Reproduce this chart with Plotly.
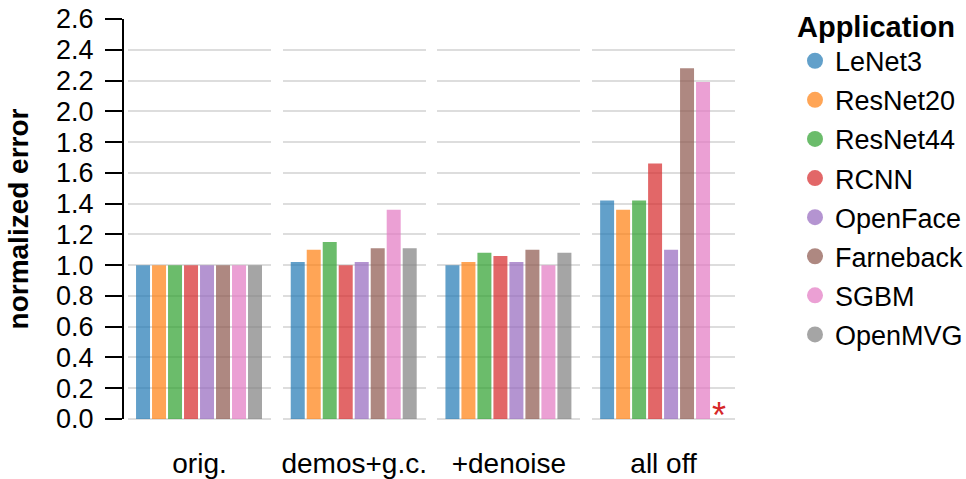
import plotly.graph_objects as go

# Applications (one bar per application inside each configuration panel)
apps = ["LeNet3", "ResNet20", "ResNet44", "RCNN", "OpenFace", "Farneback", "SGBM", "OpenMVG"]
colors = ["#1f77b4", "#ff7f0e", "#2ca02c", "#d62728", "#9467bd", "#8c564b", "#e377c2", "#7f7f7f"]

# Pipeline configurations (panels, left to right)
configs = ["orig.", "demos+g.c.", "+denoise", "all off"]

# Normalized error per configuration, ordered as `apps`; None = no result
err_orig = [1.00, 1.00, 1.00, 1.00, 1.00, 1.00, 1.00, 1.00]
err_demos_gc = [1.02, 1.10, 1.15, 1.00, 1.02, 1.11, 1.36, 1.11]
err_denoise = [1.00, 1.02, 1.08, 1.06, 1.02, 1.10, 1.00, 1.08]
err_all_off = [1.42, 1.36, 1.42, 1.66, 1.10, 2.28, 2.19, None]
panel_values = [err_orig, err_demos_gc, err_denoise, err_all_off]

y_ticks = [0.0, 0.2, 0.4, 0.6, 0.8, 1.0, 1.2, 1.4, 1.6, 1.8, 2.0, 2.2, 2.4, 2.6]

FONT = "Liberation Sans, Arial, Helvetica, sans-serif"
GRID = "#dddddd"

fig = go.Figure()
annotations = []

# Bars: one trace per application per panel
for p, vals in enumerate(panel_values):
    xa = "x" if p == 0 else f"x{p + 1}"
    for i, app in enumerate(apps):
        fig.add_trace(go.Bar(
            x=[app], y=[vals[i]], xaxis=xa, yaxis="y",
            marker=dict(color=colors[i], opacity=0.7, line=dict(width=0)),
            showlegend=False, hoverinfo="x+y",
        ))
    # mark missing results with a red asterisk at the baseline
    for app, v in zip(apps, vals):
        if v is None:
            annotations.append(dict(
                x=app, y=0, xref=xa, yref="y", text="*", showarrow=False,
                xanchor="center", yanchor="middle", yshift=4,
                font=dict(family=FONT, size=36, color="#d62728"),
            ))

# Legend entries with circular symbols
for i, app in enumerate(apps):
    fig.add_trace(go.Scatter(
        x=[None], y=[None], mode="markers", name=app, legendgroup=app,
        marker=dict(symbol="circle", size=20, color=colors[i], opacity=0.7),
        xaxis="x", yaxis="y",
    ))

L, R, T, B = 123, 231, 19, 60
W, H = 966, 479
plot_w = W - L - R
panel_w, panel_step, panel_off = 143, 154.7, 5

layout_axes = {}
for p, name in enumerate(configs):
    key = "xaxis" if p == 0 else f"xaxis{p + 1}"
    start = (panel_off + p * panel_step) / plot_w
    end = (panel_off + p * panel_step + panel_w) / plot_w
    layout_axes[key] = dict(
        domain=[start, min(end, 1.0)], anchor="y",
        type="category", categoryorder="array", categoryarray=apps,
        range=[-0.94, 8.0], showticklabels=False, ticks="", showgrid=False,
        showline=False, zeroline=False, automargin=False,
        title=dict(text=name, font=dict(family=FONT, size=28, color="black"), standoff=34),
    )

fig.update_layout(
    width=W, height=H,
    margin=dict(l=L, r=R, t=T, b=B, pad=0, autoexpand=False),
    paper_bgcolor="white", plot_bgcolor="white",
    font=dict(family=FONT, color="black"),
    bargap=0.125,
    yaxis=dict(
        range=[0, 2.6], tickvals=y_ticks, tickformat=".1f",
        anchor="free", position=0, automargin=False,
        showline=True, linecolor="black", linewidth=2,
        ticks="outside", ticklen=17, tickwidth=2, tickcolor="black",
        ticklabelstandoff=6,
        tickfont=dict(family=FONT, size=27, color="black"),
        showgrid=True, gridcolor=GRID, gridwidth=2,
        zeroline=True, zerolinecolor=GRID, zerolinewidth=2,
        title=dict(text="<b>normalized error</b>", font=dict(family=FONT, size=28, color="black"), standoff=18),
    ),
    legend=dict(
        x=(795 - L) / plot_w, xanchor="left", y=1.05, yanchor="top",
        title=dict(text="<b>Application</b>", font=dict(family=FONT, size=29, color="black")),
        font=dict(family=FONT, size=27, color="black"),
        traceorder="grouped", tracegroupgap=1, itemsizing="trace",
        bgcolor="rgba(0,0,0,0)", maxheight=475,
    ),
    showlegend=True,
    annotations=annotations,
    **layout_axes,
)

fig.write_html("out.html")
